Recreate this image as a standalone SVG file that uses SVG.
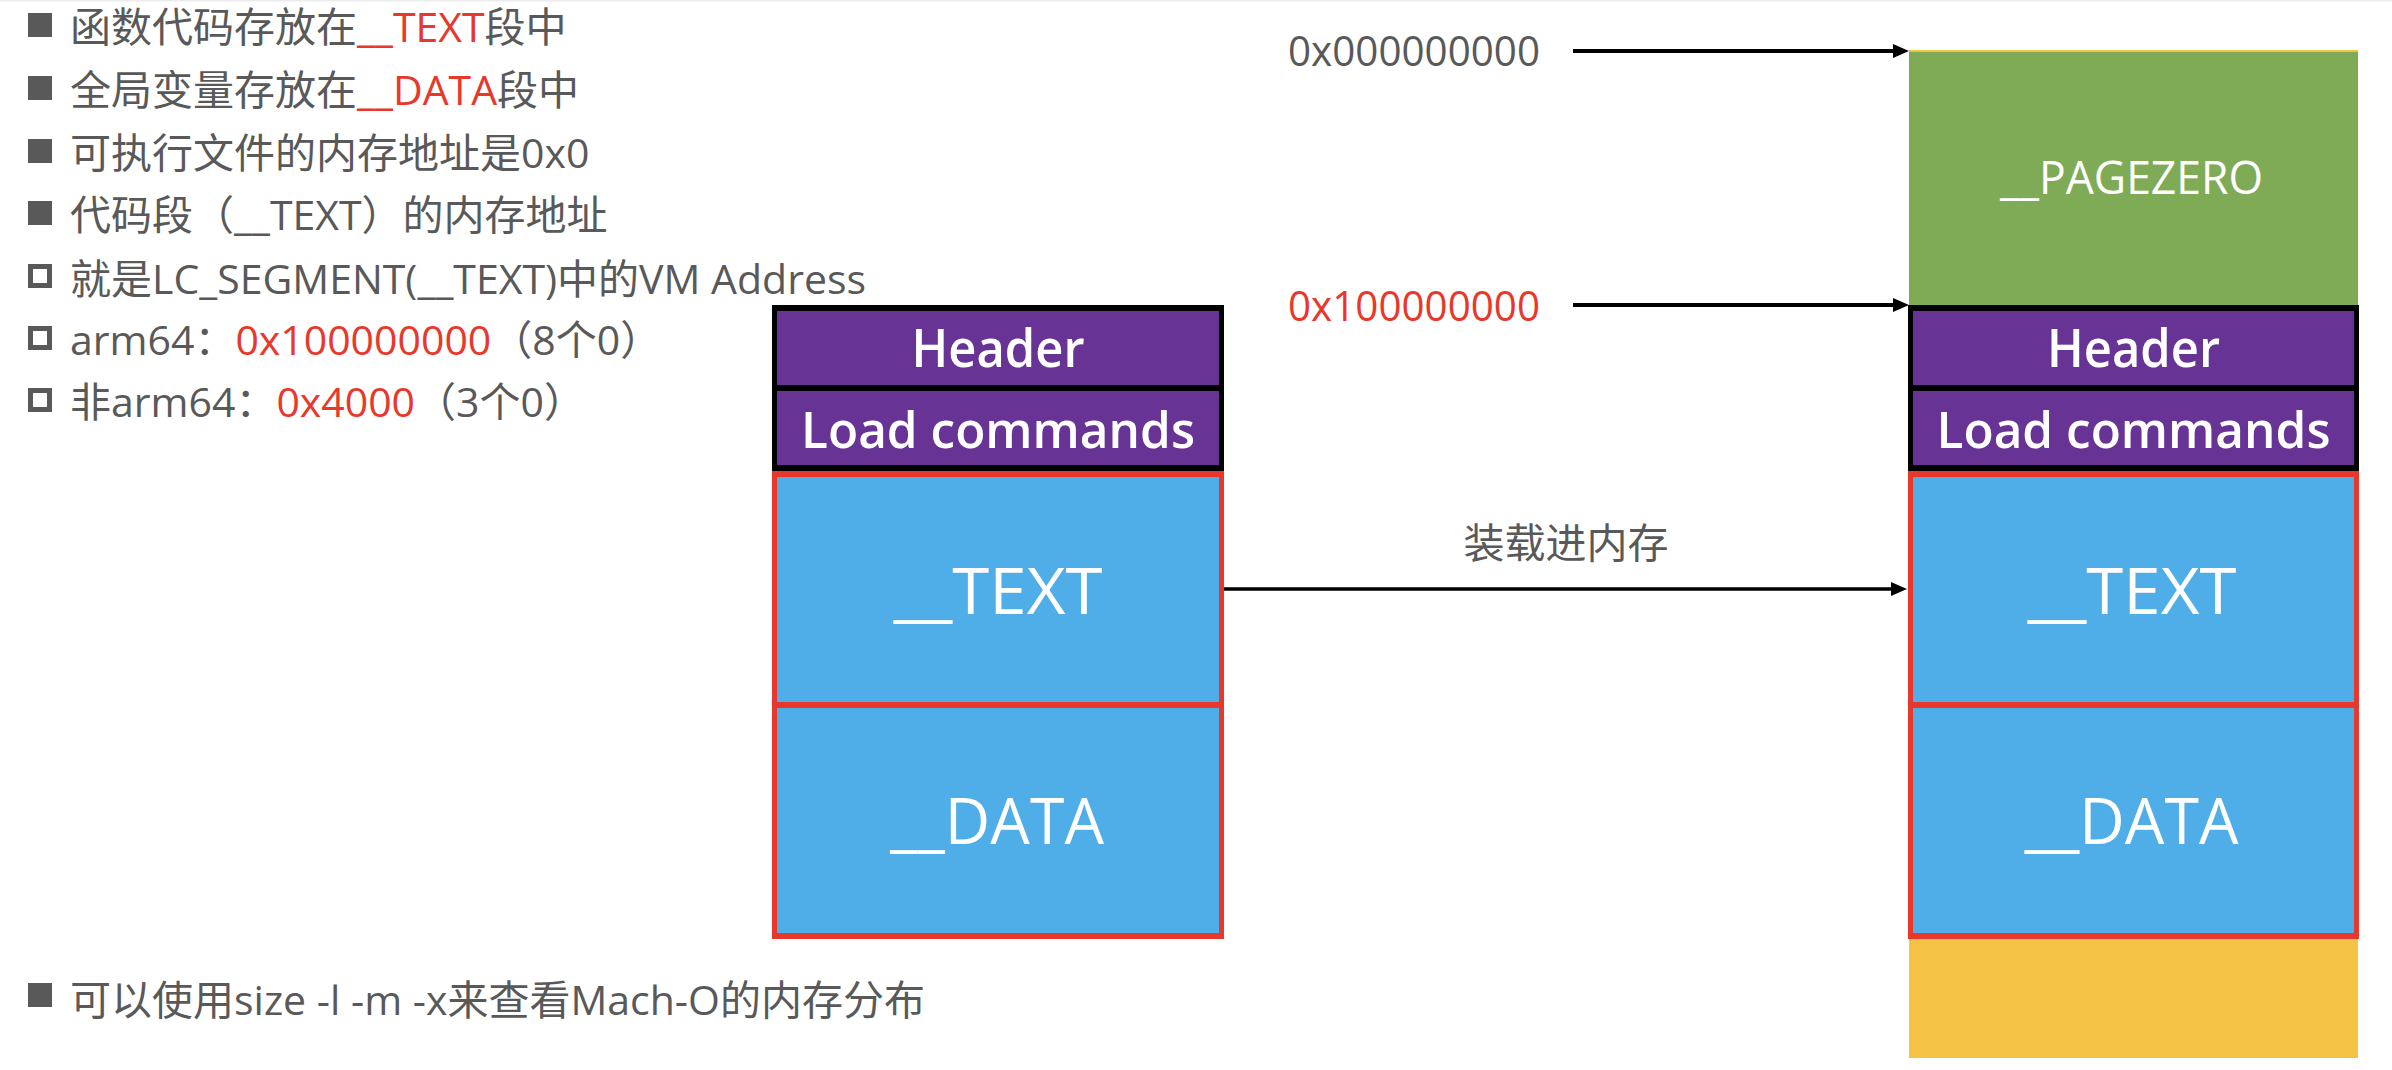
<svg xmlns="http://www.w3.org/2000/svg" width="2392" height="1070" viewBox="0 0 2392 1070">
  <style>
    .t { font-family: "Open Sans", "Noto Sans CJK SC", sans-serif; font-size: 41px; fill: #595959; }
    .r { fill: #E8382C; }
    .w { font-family: "Open Sans", "Noto Sans CJK SC", sans-serif; fill: #FFFFFF; text-anchor: middle; }
    .sb { font-weight: 600; }
    .addr { font-family: "Open Sans", sans-serif; font-size: 42px; }
    .blk { fill: #000000; }
    .pur { fill: #673496; }
    .redb { fill: #E8382C; }
    .blue { fill: #4FADE8; }
    .bul { fill: #595959; }
    .hb { fill: none; stroke: #595959; stroke-width: 5; }
    .conn { stroke: #000000; fill: none; }
  </style>
  <defs>
    <marker id="ah" markerUnits="userSpaceOnUse" markerWidth="18" markerHeight="14" refX="2" refY="7" orient="auto">
      <path d="M0,0 L16,7 L0,14 z" fill="#000000"/>
    </marker>
  </defs>

  <rect x="0" y="0" width="2392" height="1070" fill="#FFFFFF"/>
  <rect x="0" y="0" width="2392" height="1.5" fill="#ECECEC"/>

  <!-- Left bullet list -->
  <g id="notes">
    <rect class="bul" x="28" y="13" width="24" height="24"/>
    <text class="t" x="70" y="42">函数代码存放在<tspan class="r">__TEXT</tspan>段中</text>
    <rect class="bul" x="28" y="76" width="24" height="24"/>
    <text class="t" x="70" y="105">全局变量存放在<tspan class="r">__DATA</tspan>段中</text>
    <rect class="bul" x="28" y="139" width="24" height="24"/>
    <text class="t" x="70" y="168">可执行文件的内存地址是0x0</text>
    <rect class="bul" x="28" y="201" width="24" height="24"/>
    <text class="t" x="70" y="230">代码段（__TEXT）的内存地址</text>
    <rect class="hb" x="30.5" y="266.5" width="19" height="19"/>
    <text class="t" x="70" y="294">就是LC_SEGMENT(__TEXT)中的VM Address</text>
    <rect class="hb" x="30.5" y="328.5" width="19" height="19"/>
    <text class="t" x="70" y="355">arm64：<tspan class="r">0x100000000</tspan>（8个0）</text>
    <rect class="hb" x="30.5" y="390.5" width="19" height="19"/>
    <text class="t" x="70" y="417">非arm64：<tspan class="r">0x4000</tspan>（3个0）</text>
    <rect class="bul" x="28" y="983" width="24" height="24"/>
    <text class="t" x="70" y="1015">可以使用size -l -m -x来查看Mach-O的内存分布</text>
  </g>

  <!-- Left Mach-O file stack -->
  <g id="file-header">
    <rect class="blk" x="772" y="305" width="452" height="166"/>
    <rect class="pur" x="777" y="311" width="442" height="74"/>
    <text class="w sb" x="998" y="367" font-size="52" textLength="173" lengthAdjust="spacingAndGlyphs">Header</text>
  </g>
  <g id="file-loadcommands">
    <rect class="pur" x="777" y="391" width="442" height="74"/>
    <text class="w sb" x="998" y="448" font-size="51" textLength="394" lengthAdjust="spacingAndGlyphs">Load commands</text>
  </g>
  <g id="file-text">
    <rect class="redb" x="772" y="471" width="452" height="468"/>
    <rect class="blue" x="777" y="477" width="442" height="225"/>
    <text class="w" x="998" y="614" font-size="64" textLength="209" lengthAdjust="spacingAndGlyphs">__TEXT</text>
  </g>
  <g id="file-data">
    <rect class="blue" x="777" y="708" width="442" height="225"/>
    <text class="w" x="997" y="844" font-size="64" textLength="214" lengthAdjust="spacingAndGlyphs">__DATA</text>
  </g>

  <!-- Right memory stack -->
  <g id="mem-rest">
    <rect x="1909" y="50" width="449" height="1008" fill="#F4C244"/>
  </g>
  <g id="mem-pagezero">
    <rect x="1909" y="52" width="449" height="253" fill="#7FAB56"/>
    <text class="w" x="2131.5" y="194" font-size="45" textLength="263" lengthAdjust="spacingAndGlyphs">__PAGEZERO</text>
  </g>
  <g id="mem-header">
    <rect class="blk" x="1908" y="305" width="451" height="166"/>
    <rect class="pur" x="1913" y="311" width="441" height="74"/>
    <text class="w sb" x="2133.5" y="367" font-size="52" textLength="173" lengthAdjust="spacingAndGlyphs">Header</text>
  </g>
  <g id="mem-loadcommands">
    <rect class="pur" x="1913" y="391" width="441" height="74"/>
    <text class="w sb" x="2133.5" y="448" font-size="51" textLength="394" lengthAdjust="spacingAndGlyphs">Load commands</text>
  </g>
  <g id="mem-text">
    <rect class="redb" x="1908" y="471" width="451" height="468"/>
    <rect class="blue" x="1913" y="477" width="441" height="225"/>
    <text class="w" x="2132" y="614" font-size="64" textLength="209" lengthAdjust="spacingAndGlyphs">__TEXT</text>
  </g>
  <g id="mem-data">
    <rect class="blue" x="1913" y="708" width="441" height="225"/>
    <text class="w" x="2131.5" y="844" font-size="64" textLength="214" lengthAdjust="spacingAndGlyphs">__DATA</text>
  </g>

  <!-- Address labels -->
  <g id="addr-0">
    <text class="t addr" x="1288" y="66" textLength="252" lengthAdjust="spacingAndGlyphs">0x000000000</text>
  </g>
  <g id="addr-1">
    <text class="t addr r" x="1288" y="321" textLength="252" lengthAdjust="spacingAndGlyphs">0x100000000</text>
  </g>

  <!-- Connectors -->
  <g id="connectors">
    <line class="conn" x1="1573" y1="51" x2="1895" y2="51" stroke-width="4" marker-end="url(#ah)"/>
    <line class="conn" x1="1573" y1="305" x2="1895" y2="305" stroke-width="4" marker-end="url(#ah)"/>
    <line class="conn" x1="1224" y1="589" x2="1893" y2="589" stroke-width="3.5" marker-end="url(#ah)"/>
    <text class="t" x="1566" y="558" font-size="40" text-anchor="middle">装载进内存</text>
  </g>
</svg>
